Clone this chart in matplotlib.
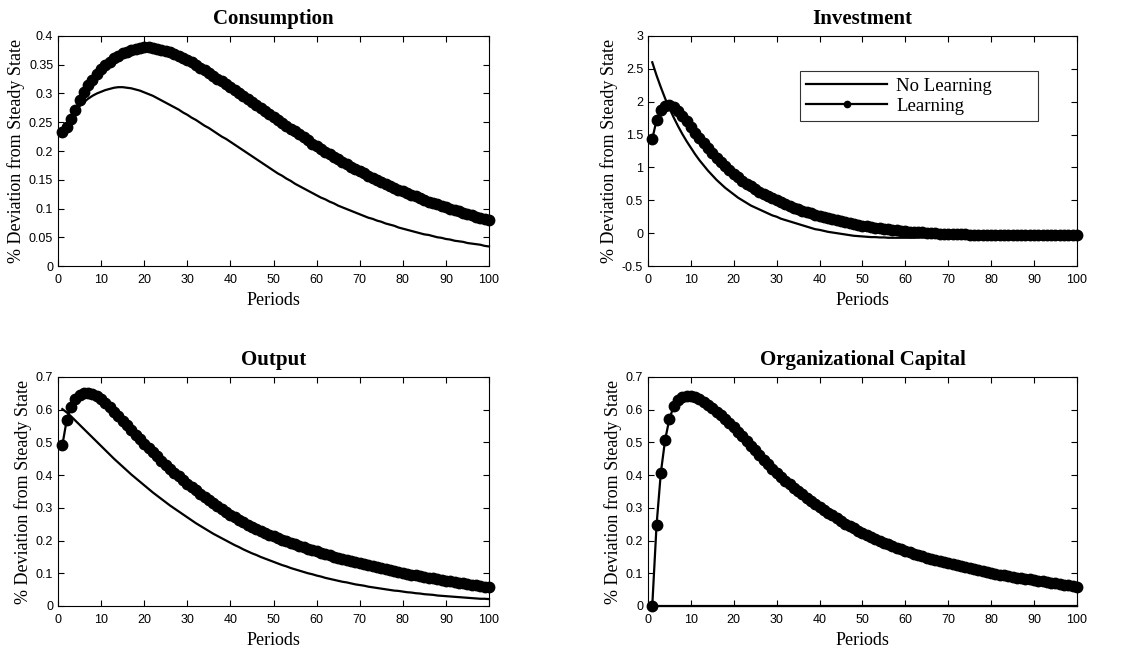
import matplotlib
matplotlib.use('Agg')
import matplotlib.pyplot as plt
from matplotlib.ticker import FuncFormatter

periods = list(range(1, 101))

# Consumption
cons_no_learning = [
    0.235, 0.248, 0.259, 0.269, 0.278, 0.285, 0.291, 0.296, 0.300, 0.303,
    0.306, 0.308, 0.310, 0.311, 0.311, 0.310, 0.309, 0.307, 0.305, 0.302,
    0.299, 0.296, 0.292, 0.288, 0.284, 0.280, 0.276, 0.272, 0.267, 0.263,
    0.258, 0.254, 0.249, 0.244, 0.240, 0.235, 0.230, 0.225, 0.221, 0.216,
    0.211, 0.206, 0.201, 0.196, 0.191, 0.186, 0.181, 0.176, 0.171, 0.166,
    0.161, 0.157, 0.152, 0.148, 0.143, 0.139, 0.135, 0.131, 0.127, 0.123,
    0.119, 0.116, 0.112, 0.109, 0.105, 0.102, 0.099, 0.096, 0.093, 0.090,
    0.087, 0.084, 0.082, 0.079, 0.077, 0.074, 0.072, 0.070, 0.067, 0.065,
    0.063, 0.061, 0.059, 0.057, 0.055, 0.054, 0.052, 0.050, 0.049, 0.047,
    0.046, 0.044, 0.043, 0.042, 0.040, 0.039, 0.038, 0.037, 0.035, 0.034,
]
cons_learning = [
    0.233, 0.241, 0.256, 0.272, 0.288, 0.302, 0.314, 0.324, 0.334, 0.342,
    0.349, 0.355, 0.361, 0.366, 0.370, 0.373, 0.376, 0.378, 0.379, 0.380,
    0.380, 0.379, 0.378, 0.376, 0.374, 0.372, 0.369, 0.366, 0.362, 0.358,
    0.354, 0.350, 0.345, 0.341, 0.336, 0.331, 0.326, 0.321, 0.316, 0.311,
    0.306, 0.301, 0.295, 0.290, 0.285, 0.280, 0.274, 0.269, 0.264, 0.259,
    0.254, 0.249, 0.244, 0.239, 0.234, 0.229, 0.224, 0.219, 0.213, 0.208,
    0.204, 0.199, 0.195, 0.190, 0.186, 0.181, 0.177, 0.173, 0.169, 0.165,
    0.161, 0.157, 0.153, 0.150, 0.146, 0.143, 0.140, 0.136, 0.133, 0.130,
    0.127, 0.124, 0.121, 0.118, 0.115, 0.112, 0.110, 0.107, 0.105, 0.102,
    0.100, 0.097, 0.095, 0.093, 0.091, 0.088, 0.086, 0.084, 0.082, 0.080,
]

# Investment
inv_no_learning = [
    2.60, 2.40, 2.22, 2.05, 1.90, 1.76, 1.63, 1.51, 1.40, 1.30,
    1.20, 1.11, 1.03, 0.95, 0.88, 0.81, 0.75, 0.69, 0.64, 0.59,
    0.54, 0.50, 0.46, 0.42, 0.39, 0.36, 0.33, 0.30, 0.27, 0.25,
    0.22, 0.20, 0.18, 0.16, 0.14, 0.12, 0.10, 0.08, 0.06, 0.05,
    0.035, 0.02, 0.01, 0.0, -0.01, -0.02, -0.03, -0.04, -0.045, -0.05,
    -0.055, -0.06, -0.06, -0.065, -0.065, -0.07, -0.07, -0.07, -0.07, -0.07,
    -0.07, -0.07, -0.068, -0.067, -0.066, -0.065, -0.064, -0.063, -0.062, -0.06,
    -0.059, -0.058, -0.057, -0.056, -0.055, -0.054, -0.053, -0.052, -0.051, -0.05,
    -0.049, -0.048, -0.047, -0.046, -0.045, -0.044, -0.043, -0.043, -0.042, -0.041,
    -0.040, -0.040, -0.039, -0.038, -0.038, -0.037, -0.037, -0.036, -0.036, -0.035,
]
inv_learning = [
    1.43, 1.72, 1.87, 1.94, 1.95, 1.92, 1.86, 1.79, 1.70, 1.61,
    1.53, 1.45, 1.37, 1.29, 1.22, 1.15, 1.08, 1.02, 0.96, 0.90,
    0.85, 0.80, 0.75, 0.71, 0.67, 0.63, 0.59, 0.56, 0.53, 0.50,
    0.47, 0.44, 0.41, 0.39, 0.36, 0.34, 0.32, 0.30, 0.28, 0.26,
    0.24, 0.225, 0.21, 0.195, 0.18, 0.165, 0.15, 0.14, 0.13, 0.115,
    0.105, 0.095, 0.085, 0.075, 0.07, 0.06, 0.05, 0.045, 0.04, 0.03,
    0.025, 0.02, 0.015, 0.01, 0.005, 0.0, -0.003, -0.006, -0.009, -0.012,
    -0.014, -0.016, -0.018, -0.02, -0.021, -0.022, -0.023, -0.024, -0.025, -0.026,
    -0.027, -0.027, -0.028, -0.028, -0.029, -0.029, -0.03, -0.03, -0.03, -0.031,
    -0.031, -0.032, -0.032, -0.033, -0.033, -0.034, -0.034, -0.034, -0.035, -0.035,
]

# Output
out_no_learning = [
    0.602, 0.592, 0.580, 0.567, 0.554, 0.541, 0.528, 0.515, 0.502, 0.489,
    0.476, 0.463, 0.450, 0.438, 0.426, 0.414, 0.402, 0.391, 0.380, 0.369,
    0.358, 0.347, 0.337, 0.327, 0.317, 0.307, 0.298, 0.289, 0.280, 0.271,
    0.262, 0.253, 0.245, 0.237, 0.229, 0.221, 0.214, 0.207, 0.200, 0.193,
    0.186, 0.180, 0.173, 0.167, 0.161, 0.156, 0.150, 0.145, 0.140, 0.135,
    0.130, 0.125, 0.121, 0.116, 0.112, 0.108, 0.104, 0.100, 0.097, 0.093,
    0.090, 0.086, 0.083, 0.080, 0.077, 0.074, 0.072, 0.069, 0.066, 0.064,
    0.062, 0.059, 0.057, 0.055, 0.053, 0.051, 0.049, 0.047, 0.046, 0.044,
    0.042, 0.041, 0.039, 0.038, 0.036, 0.035, 0.034, 0.032, 0.031, 0.030,
    0.029, 0.028, 0.027, 0.026, 0.025, 0.024, 0.023, 0.022, 0.022, 0.021,
]
out_learning = [
    0.491, 0.567, 0.608, 0.633, 0.645, 0.650, 0.650, 0.647, 0.641, 0.633,
    0.621, 0.608, 0.594, 0.580, 0.566, 0.552, 0.538, 0.524, 0.510, 0.496,
    0.483, 0.470, 0.457, 0.444, 0.432, 0.420, 0.408, 0.396, 0.385, 0.374,
    0.363, 0.353, 0.343, 0.333, 0.323, 0.314, 0.305, 0.296, 0.287, 0.279,
    0.271, 0.263, 0.256, 0.249, 0.242, 0.236, 0.230, 0.224, 0.218, 0.213,
    0.208, 0.203, 0.198, 0.193, 0.188, 0.184, 0.179, 0.175, 0.171, 0.167,
    0.163, 0.159, 0.155, 0.151, 0.147, 0.144, 0.140, 0.137, 0.134, 0.130,
    0.127, 0.124, 0.121, 0.118, 0.115, 0.112, 0.110, 0.107, 0.104, 0.102,
    0.099, 0.096, 0.094, 0.091, 0.089, 0.086, 0.084, 0.082, 0.080, 0.077,
    0.075, 0.073, 0.071, 0.069, 0.067, 0.065, 0.063, 0.061, 0.059, 0.057,
]

# Organizational capital (no learning stays at zero)
org_no_learning = [0.0] * 100
org_learning = [
    0.000, 0.247, 0.407, 0.508, 0.572, 0.610, 0.629, 0.639, 0.643, 0.642,
    0.638, 0.632, 0.624, 0.615, 0.605, 0.594, 0.583, 0.571, 0.559, 0.547,
    0.533, 0.519, 0.505, 0.490, 0.476, 0.461, 0.447, 0.433, 0.419, 0.405,
    0.394, 0.383, 0.372, 0.361, 0.351, 0.341, 0.331, 0.321, 0.312, 0.303,
    0.294, 0.285, 0.277, 0.268, 0.260, 0.252, 0.245, 0.237, 0.230, 0.223,
    0.217, 0.211, 0.205, 0.199, 0.194, 0.188, 0.183, 0.178, 0.173, 0.169,
    0.164, 0.160, 0.156, 0.152, 0.148, 0.144, 0.140, 0.137, 0.133, 0.130,
    0.127, 0.124, 0.121, 0.118, 0.115, 0.112, 0.109, 0.106, 0.104, 0.101,
    0.099, 0.096, 0.094, 0.092, 0.089, 0.087, 0.085, 0.083, 0.081, 0.079,
    0.077, 0.075, 0.073, 0.071, 0.069, 0.067, 0.065, 0.063, 0.061, 0.059,
]

panels = [
    ('Consumption', cons_no_learning, cons_learning, (0, 0.4), [i * 0.05 for i in range(9)]),
    ('Investment', inv_no_learning, inv_learning, (-0.5, 3), [-0.5 + i * 0.5 for i in range(8)]),
    ('Output', out_no_learning, out_learning, (0, 0.7), [i * 0.1 for i in range(8)]),
    ('Organizational Capital', org_no_learning, org_learning, (0, 0.7), [i * 0.1 for i in range(8)]),
]

# axes boxes in figure fractions [left, bottom, width, height]
positions = [
    [0.0512, 0.592, 0.3804, 0.3528],
    [0.5719, 0.592, 0.3786, 0.3528],
    [0.0512, 0.0706, 0.3804, 0.3512],
    [0.5719, 0.0706, 0.3786, 0.3512],
]

serif = 'Liberation Serif'
sans = 'Liberation Sans'

fig = plt.figure(figsize=(11.33, 6.52), dpi=100)
fmt = FuncFormatter(lambda v, pos: '%g' % round(v, 4))

for (title, nl, lr, ylim, yticks), pos in zip(panels, positions):
    ax = fig.add_axes(pos)
    ax.plot(periods, nl, color='black', linewidth=1.6, label='No Learning',
            clip_on=False)
    ax.plot(periods, lr, color='black', linewidth=1.6, marker='o', markersize=7.5,
            label='Learning', clip_on=False, zorder=3)
    ax.set_xlim(0, 100)
    ax.set_ylim(*ylim)
    ax.set_xticks(range(0, 101, 10))
    ax.set_yticks(yticks)
    ax.yaxis.set_major_formatter(fmt)
    ax.tick_params(direction='in', top=True, right=True, length=4, width=0.8,
                   labelsize=9)
    ax.tick_params(axis='x', pad=6)
    for lab in ax.get_xticklabels() + ax.get_yticklabels():
        lab.set_family(sans)
    for s in ax.spines.values():
        s.set_linewidth(0.8)
    ax.set_title(title, fontsize=15, fontweight='bold', family=serif, pad=8.5)
    ax.set_xlabel('Periods', fontsize=13, family=serif, labelpad=4)
    ax.set_ylabel('% Deviation from Steady State', fontsize=13, family=serif, labelpad=3)
    if title == 'Investment':
        leg = ax.legend(loc='upper left', bbox_to_anchor=(0.354, 0.639, 0.555, 0.209),
                        mode='expand',
                        prop={'family': serif, 'size': 13.5}, frameon=True,
                        fancybox=False, edgecolor='black', handlelength=4.3,
                        borderpad=0.35, labelspacing=0.15, handletextpad=0.5,
                        borderaxespad=0, markerscale=0.6)
        leg.get_frame().set_linewidth(0.8)

plt.savefig('out.png', dpi=100)
